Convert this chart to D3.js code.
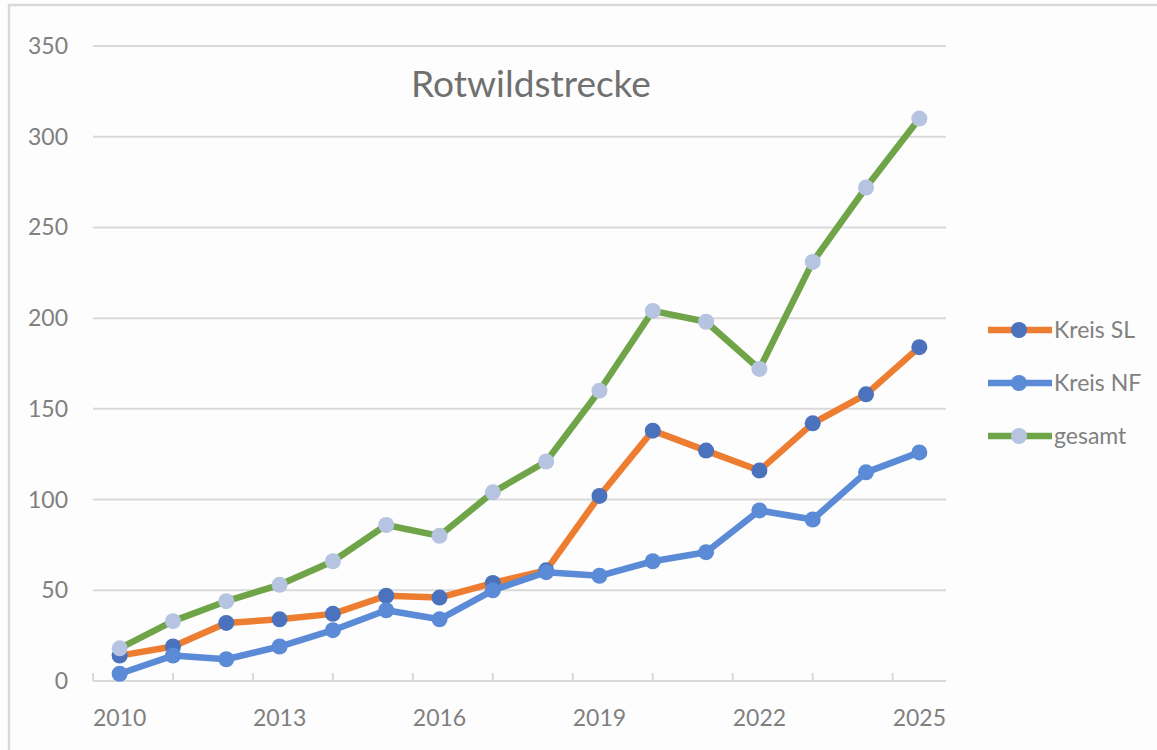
<!DOCTYPE html>
<html>
<head>
<meta charset="utf-8">
<script src="https://cdn.jsdelivr.net/npm/d3@7"></script>
<style>
  html, body { margin: 0; padding: 0; background: #fdfdfd; }
  svg { display: block; font-family: Lato, "Open Sans", sans-serif; }
</style>
</head>
<body>
<div id="container"></div>
<script>
// data
const years = [2010, 2011, 2012, 2013, 2014, 2015, 2016, 2017, 2018, 2019, 2020, 2021, 2022, 2023, 2024, 2025];
const kreisSL = [14, 19, 32, 34, 37, 47, 46, 54, 61, 102, 138, 127, 116, 142, 158, 184];
const kreisNF = [4, 14, 12, 19, 28, 39, 34, 50, 60, 58, 66, 71, 94, 89, 115, 126];
const gesamt = [18, 33, 44, 53, 66, 86, 80, 104, 121, 160, 204, 198, 172, 231, 272, 310];
const seriesNames = ["Kreis SL", "Kreis NF", "gesamt"];
const yTicks = [0, 50, 100, 150, 200, 250, 300, 350];
const xLabels = [2010, 2013, 2016, 2019, 2022, 2025];
const xTickMarks = [2009.5, 2011, 2012.5, 2014, 2015.5, 2017, 2018.5, 2020, 2021.5, 2023, 2024.5];

const w = 1157;
const h = 750;
const textColor = '#808080';
const gridColor = '#d9d9d9';

const series = [
    { name: seriesNames[0], values: kreisSL, line: '#ed7d31', marker: '#4a72bd' },
    { name: seriesNames[1], values: kreisNF, line: '#5b8ad6', marker: '#5b8ad6' },
    { name: seriesNames[2], values: gesamt, line: '#6fa548', marker: '#b6c4e2' }
];

const svg = d3.select('#container').append('svg')
    .attr('width', w)
    .attr('height', h);

// chart frame
svg.append('rect')
    .attr('x', 9).attr('y', 5)
    .attr('width', w).attr('height', h)
    .style('fill', '#fdfdfd')
    .style('stroke', gridColor)
    .style('stroke-width', 2.5);

const xScale = d3.scaleLinear().domain([2009.5, 2025.5]).range([93, 946]);
const yScale = d3.scaleLinear().domain([0, 350]).range([681, 46]);

// gridlines
svg.append('g').selectAll('line').data(yTicks).enter()
    .append('line')
    .attr('x1', xScale.range()[0])
    .attr('x2', xScale.range()[1])
    .attr('y1', d => yScale(d))
    .attr('y2', d => yScale(d))
    .style('stroke', gridColor)
    .style('stroke-width', 2);

// x tick marks (pointing up, as in the reference)
svg.append('g').selectAll('line').data(xTickMarks).enter()
    .append('line')
    .attr('x1', d => xScale(d))
    .attr('x2', d => xScale(d))
    .attr('y1', yScale(0))
    .attr('y2', yScale(0) - 8)
    .style('stroke', gridColor)
    .style('stroke-width', 2);

// y labels
svg.append('g').selectAll('text').data(yTicks).enter()
    .append('text')
    .attr('x', 68)
    .attr('y', d => yScale(d))
    .attr('dy', '0.35em')
    .attr('text-anchor', 'end')
    .style('font-size', '23px')
    .style('fill', textColor)
    .text(d => d);

// x labels
svg.append('g').selectAll('text').data(xLabels).enter()
    .append('text')
    .attr('x', d => xScale(d))
    .attr('y', 726)
    .attr('text-anchor', 'middle')
    .style('font-size', '23px')
    .style('fill', textColor)
    .text(d => d);

// title
svg.append('text')
    .attr('x', 531)
    .attr('y', 97)
    .attr('text-anchor', 'middle')
    .style('font-size', '37px')
    .style('fill', '#707070')
    .text('Rotwildstrecke');

const lineMaker = d3.line()
    .x((d, i) => xScale(years[i]))
    .y(d => yScale(d));

series.forEach((s) => {
    const g = svg.append('g').attr('class', 'series');
    g.append('path')
        .datum(s.values)
        .attr('d', lineMaker)
        .style('fill', 'none')
        .style('stroke', s.line)
        .style('stroke-width', 6.5)
        .style('stroke-linejoin', 'round');
    g.selectAll('circle').data(s.values).enter()
        .append('circle')
        .attr('cx', (d, i) => xScale(years[i]))
        .attr('cy', d => yScale(d))
        .attr('r', 8)
        .style('fill', s.marker);
});

// legend
const legend = svg.append('g').selectAll('g').data(series).enter()
    .append('g')
    .attr('transform', (d, i) => 'translate(988,' + (330 + i * 53) + ')');
legend.append('line')
    .attr('x1', 0).attr('x2', 64)
    .attr('y1', 0).attr('y2', 0)
    .style('stroke', d => d.line)
    .style('stroke-width', 6.5);
legend.append('circle')
    .attr('cx', 31).attr('cy', 0)
    .attr('r', 8)
    .style('fill', d => d.marker);
legend.append('text')
    .attr('x', 66)
    .attr('y', 0)
    .attr('dy', '0.35em')
    .style('font-size', '23px')
    .style('fill', textColor)
    .text(d => d.name);
</script>
</body>
</html>
